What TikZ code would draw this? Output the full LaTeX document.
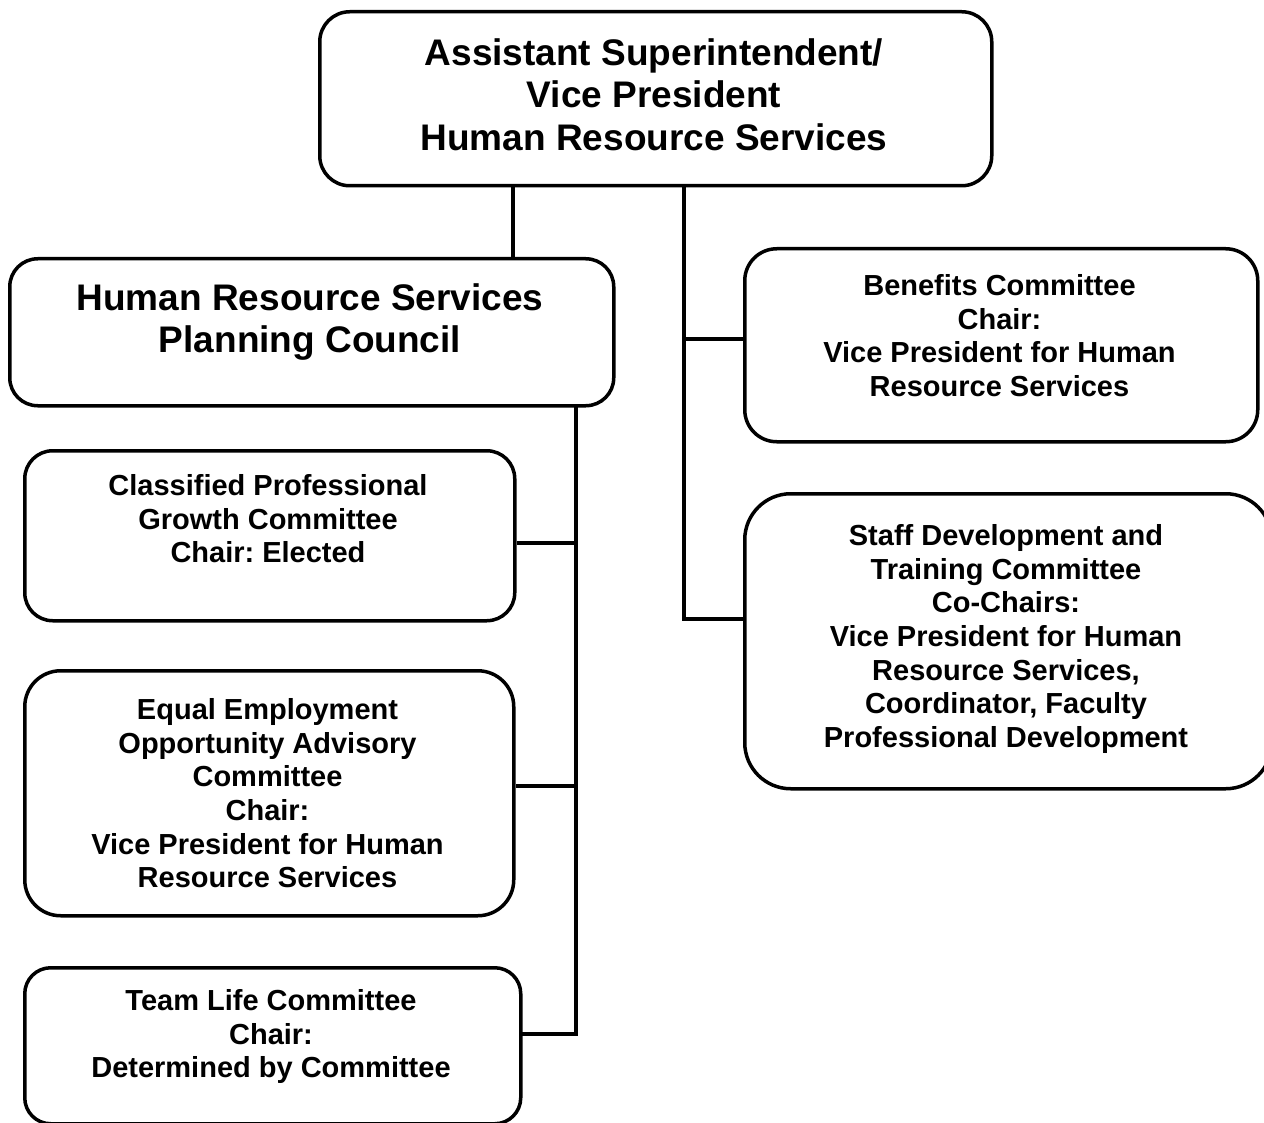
\documentclass[tikz,border=0pt]{standalone}
\usepackage{fontspec}
\setmainfont{Liberation Sans}
\frenchspacing
\begin{document}
\begin{tikzpicture}[x=1pt,y=-1pt,
  box/.style={draw=black,line width=3.5pt,rounded corners=#1,inner sep=0pt,anchor=north west},
  box/.default=30pt,
  bigtxt/.style={anchor=north,align=center,inner sep=0pt,font=\fontsize{37}{42.5}\selectfont\bfseries\frenchspacing},
  smalltxt/.style={anchor=north,align=center,inner sep=0pt,font=\fontsize{29}{33.7}\selectfont\bfseries\frenchspacing},
  conn/.style={draw=black,line width=3.2pt}]
\useasboundingbox (0,0) rectangle (1264,1123);
\clip (0,0) rectangle (1264,1123);
% boxes
\node[box=30pt,minimum width=672pt,minimum height=174pt] (top) at (318,10) {};
\node[box=28pt,minimum width=604pt,minimum height=147pt] (hrs) at (8,257) {};
\node[box=32pt,minimum width=513pt,minimum height=193pt] (ben) at (743,247) {};
\node[box=46pt,minimum width=527pt,minimum height=295pt] (staff) at (743,492) {};
\node[box=28pt,minimum width=490pt,minimum height=170pt] (cls) at (23,449) {};
\node[box=36pt,minimum width=489pt,minimum height=245pt] (eeo) at (23,669) {};
\node[box=26pt,minimum width=496pt,minimum height=156pt] (team) at (23,966) {};
% texts
\node[bigtxt] (ttop) at (654,35.5) {\strut Assistant Superintendent/\\Vice President\\Human Resource Services};
\node[bigtxt] (thrs) at (310,280.5) {\strut Human Resource Services\\Planning Council};
\node[smalltxt] (tben) at (999.5,271.6) {\strut Benefits Committee\\Chair:\\Vice President for Human\\Resource Services};
\node[smalltxt] (tstaff) at (1006,521.6) {\strut Staff Development and\\Training Committee\\Co-Chairs:\\Vice President for Human\\Resource Services,\\Coordinator, Faculty\\Professional Development};
\node[smalltxt] (tcls) at (268,471.6) {\strut Classified Professional\\Growth Committee\\Chair: Elected};
\node[smalltxt] (teeo) at (267.5,695.6) {\strut Equal Employment\\Opportunity Advisory\\Committee\\Chair:\\Vice President for Human\\Resource Services};
\node[smalltxt] (tteam) at (271,986.6) {\strut Team Life Committee\\Chair:\\Determined by Committee};
% connector coordinates
\coordinate (xl) at (513,0);
\coordinate (xr) at (684,0);
\coordinate (xt) at (576,0);
\coordinate (rb) at (684,619);
\coordinate (lb) at (576,1034);
\coordinate (yb) at (0,339);
\coordinate (yc) at (0,543);
\coordinate (ye) at (0,786);
% connectors
\draw[conn] (top.south -| xl) -- (hrs.north -| xl);
\draw[conn,line cap=rect] (top.south -| xr) -- (rb) -- (rb -| staff.west);
\draw[conn] (xr |- yb) -- (ben.west |- yb);
\draw[conn,line cap=rect] (hrs.south -| xt) -- (lb) -- (lb -| team.east);
\draw[conn] (xt |- yc) -- (cls.east |- yc);
\draw[conn] (xt |- ye) -- (eeo.east |- ye);
\end{tikzpicture}
\end{document}
